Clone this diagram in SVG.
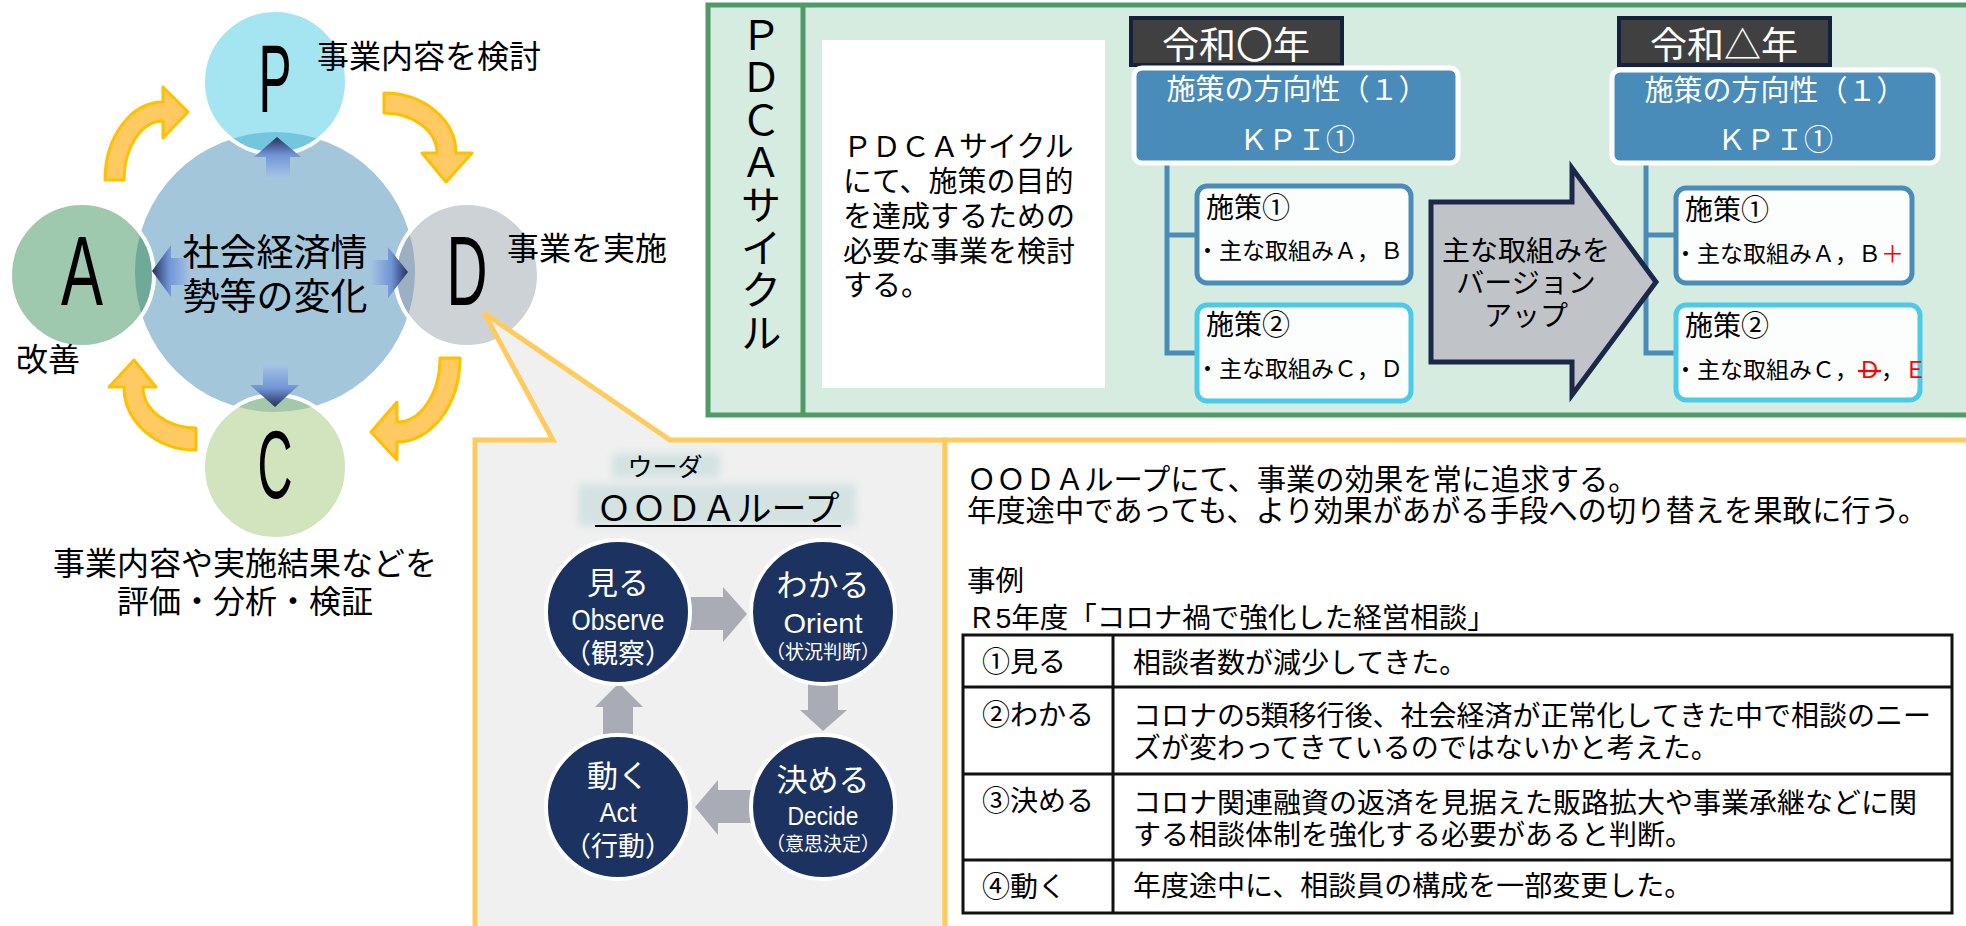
<svg xmlns="http://www.w3.org/2000/svg" width="1966" height="926" viewBox="0 0 1966 926">
<defs>
<style>
.t{font-family:'Liberation Sans','Noto Sans CJK JP',sans-serif;fill:#000;}
.v{font-family:'Liberation Sans','Noto Sans CJK JP',sans-serif;fill:#000;writing-mode:vertical-rl;text-orientation:upright;}
.w{fill:#fff;}
.lat{font-family:'Liberation Sans',sans-serif;}
.yarrow{fill:#ffca62;stroke:#ffc000;stroke-width:3;stroke-linejoin:round;}
.garrow{fill:#a9abb5;}
.ooda{fill:#1c3361;stroke:#fff;stroke-width:4;}
.tree{fill:none;stroke:#4a8cb8;stroke-width:5;}
.small{stroke:#fff;stroke-width:4;}
.blue{fill:#4a8cb9;stroke:#fff;stroke-width:5;}
.year{fill:#404040;stroke:#14213d;stroke-width:4;}
.box1{fill:#fcfdfd;stroke:#4a8cb8;stroke-width:5;}
.box2{fill:#fcfdfd;stroke:#4ccbe8;stroke-width:5;}
.tbl{fill:none;stroke:#111;stroke-width:3;}
.red{fill:#ff0000;}
</style>
<linearGradient id="gUp" x1="0" y1="0" x2="0" y2="1"><stop offset="0" stop-color="#24315a"/><stop offset="0.45" stop-color="#7194d6"/><stop offset="1" stop-color="#a4c3e2"/></linearGradient>
<linearGradient id="gDown" x1="0" y1="1" x2="0" y2="0"><stop offset="0" stop-color="#24315a"/><stop offset="0.45" stop-color="#7194d6"/><stop offset="1" stop-color="#a4c3e2"/></linearGradient>
<linearGradient id="gLeft" x1="0" y1="0" x2="1" y2="0"><stop offset="0" stop-color="#24315a"/><stop offset="0.45" stop-color="#7194d6"/><stop offset="1" stop-color="#a4c3e2"/></linearGradient>
<linearGradient id="gRight" x1="1" y1="0" x2="0" y2="0"><stop offset="0" stop-color="#24315a"/><stop offset="0.45" stop-color="#7194d6"/><stop offset="1" stop-color="#a4c3e2"/></linearGradient>
<clipPath id="cc"><circle cx="275" cy="272" r="140"/></clipPath>
<filter id="blur" x="-20%" y="-40%" width="140%" height="180%"><feGaussianBlur stdDeviation="4"/></filter>
</defs>

<!-- Left PDCA cycle -->
<g id="center">
<circle cx="275" cy="272" r="140" fill="#a4c6da"/>
</g>
<g id="node-P">
<circle cx="275" cy="82" r="72" fill="#a5e5f1"/>
<circle cx="275" cy="82" r="72" fill="#72c7de" clip-path="url(#cc)"/>
<circle cx="275" cy="82" r="72" fill="none" class="small"/>
<text class="lat" x="275" y="112" font-size="96" text-anchor="middle" textLength="33" lengthAdjust="spacingAndGlyphs">P</text>
<text class="t" x="317" y="68" font-size="32">事業内容を検討</text>
</g>
<g id="node-A">
<circle cx="82" cy="275" r="72" fill="#9ec9ae"/>
<circle cx="82" cy="275" r="72" fill="#6fa998" clip-path="url(#cc)"/>
<circle cx="82" cy="275" r="72" fill="none" class="small"/>
<text class="lat" x="82" y="305" font-size="98" text-anchor="middle" textLength="42" lengthAdjust="spacingAndGlyphs">A</text>
<text class="t" x="16" y="371" font-size="32">改善</text>
</g>
<g id="node-D">
<circle cx="467" cy="275" r="72" fill="#cdd2d7"/>
<circle cx="467" cy="275" r="72" fill="#9bb0c0" clip-path="url(#cc)"/>
<circle cx="467" cy="275" r="72" fill="none" class="small"/>
<text class="lat" x="467" y="305" font-size="98" text-anchor="middle" textLength="41" lengthAdjust="spacingAndGlyphs">D</text>
<text class="t" x="507" y="260" font-size="32">事業を実施</text>
</g>
<g id="node-C">
<circle cx="275" cy="467" r="72" fill="#d1e4bd"/>
<circle cx="275" cy="467" r="72" fill="#a5c8aa" clip-path="url(#cc)"/>
<circle cx="275" cy="467" r="72" fill="none" class="small"/>
<text class="lat" x="275" y="498" font-size="96" text-anchor="middle" textLength="35" lengthAdjust="spacingAndGlyphs">C</text>
<text class="t" x="245" y="575" font-size="32" text-anchor="middle">事業内容や実施結果などを</text>
<text class="t" x="245" y="613" font-size="32" text-anchor="middle">評価・分析・検証</text>
</g>
<g id="center-label">
<text class="t" x="275" y="266" font-size="37" text-anchor="middle">社会経済情</text>
<text class="t" x="275" y="310" font-size="37" text-anchor="middle">勢等の変化</text>
</g>

<g id="cycle-connectors">
<polygon points="266,177 266,157 254,157 277,137 301,157 290,157 290,177" fill="url(#gUp)"/>
<polygon points="263,365 263,385 250,385 275,407 299,385 288,385 288,365" fill="url(#gDown)"/>
<polygon points="190,258 171,258 171,245 152,271 171,297 171,285 190,285" fill="url(#gLeft)"/>
<polygon points="371,260 388,260 388,247 408,272 388,298 388,285 371,285" fill="url(#gRight)"/>
<path class="yarrow" d="M105,180 A58,78 0 0 1 163,102 L163,87 L188,112 L163,138 L163,121 A39,59 0 0 0 124,180 Z"/>
<path class="yarrow" d="M384,93 A72,60 0 0 1 456,153 L472,153 L446,182 L422,153 L437,153 A53,40 0 0 0 384,113 Z"/>
<path class="yarrow" d="M460,358 A63,84 0 0 1 397,442 L397,460 L371,432 L397,402 L397,422 A43,64 0 0 0 440,358 Z"/>
<path class="yarrow" d="M196,450 A72,63 0 0 1 124,387 L109,387 L134,360 L156,387 L143,387 A53,41 0 0 0 196,428 Z"/>
</g>

<!-- Callout -->
<g id="callout">
<path d="M475,940 L475,440 L553,440 L484,313 L670,440 L945,440 L945,940 Z" fill="#f0f0f0" stroke="#ffcb5c" stroke-width="5"/>
<path d="M945,940 L945,440 L1980,440" fill="#fff" stroke="#ffcb5c" stroke-width="5"/>
</g>

<!-- OODA -->
<g id="ooda-title">
<rect x="612" y="453" width="108" height="25" fill="#d4e2e2" filter="url(#blur)"/>
<rect x="578" y="484" width="278" height="42" fill="#d4e2e2" filter="url(#blur)"/>
<text class="t" x="665" y="476" font-size="25" text-anchor="middle">ウーダ</text>
<text class="t" x="718" y="521" font-size="35" text-anchor="middle">ＯＯＤＡループ</text>
<line x1="595" y1="526" x2="841" y2="526" stroke="#000" stroke-width="2"/>
</g>
<g id="ooda-connectors">
<polygon class="garrow" points="690,597 723,597 723,587 747,614 723,642 723,630 690,630"/>
<polygon class="garrow" points="808,683 838,683 838,710 847,710 823,731 800,710 808,710"/>
<polygon class="garrow" points="753,790 718,790 718,780 695,807 718,835 718,823 753,823"/>
<polygon class="garrow" points="603,742 603,707 595,707 619,683 643,707 633,707 633,742"/>
</g>
<g id="ooda-observe">
<circle class="ooda" cx="618" cy="612" r="72"/>
<text class="t w" x="618" y="594" font-size="31" text-anchor="middle">見る</text>
<text class="lat w" x="618" y="630" font-size="30" text-anchor="middle" textLength="93" lengthAdjust="spacingAndGlyphs">Observe</text>
<text class="t w" x="618" y="663" font-size="27" text-anchor="middle">（観察）</text>
</g>
<g id="ooda-orient">
<circle class="ooda" cx="823" cy="612" r="72"/>
<text class="t w" x="823" y="596" font-size="31" text-anchor="middle">わかる</text>
<text class="lat w" x="823" y="633" font-size="28" text-anchor="middle" textLength="79" lengthAdjust="spacingAndGlyphs">Orient</text>
<text class="t w" x="823" y="659" font-size="19" text-anchor="middle">（状況判断）</text>
</g>
<g id="ooda-decide">
<circle class="ooda" cx="823" cy="807" r="72"/>
<text class="t w" x="823" y="791" font-size="31" text-anchor="middle">決める</text>
<text class="lat w" x="823" y="825" font-size="25" text-anchor="middle" textLength="71" lengthAdjust="spacingAndGlyphs">Decide</text>
<text class="t w" x="823" y="851" font-size="19" text-anchor="middle">（意思決定）</text>
</g>
<g id="ooda-act">
<circle class="ooda" cx="618" cy="807" r="72"/>
<text class="t w" x="618" y="787" font-size="31" text-anchor="middle">動く</text>
<text class="lat w" x="618" y="822" font-size="28" text-anchor="middle" textLength="37" lengthAdjust="spacingAndGlyphs">Act</text>
<text class="t w" x="618" y="856" font-size="27" text-anchor="middle">（行動）</text>
</g>

<!-- Right explanation -->
<g id="ooda-text">
<text class="t" x="967" y="490" font-size="29.3">ＯＯＤＡループにて、事業の効果を常に追求する。</text>
<text class="t" x="967" y="521" font-size="29.3">年度途中であっても、より効果があがる手段への切り替えを果敢に行う。</text>
<text class="t" x="967" y="591" font-size="28.5">事例</text>
<text class="t" x="967" y="628" font-size="28.5">Ｒ5年度「コロナ禍で強化した経営相談」</text>
</g>
<g id="case-table">
<rect class="tbl" x="963" y="635" width="989" height="278" fill="#fff"/>
<line class="tbl" x1="963" y1="687" x2="1952" y2="687"/>
<line class="tbl" x1="963" y1="774" x2="1952" y2="774"/>
<line class="tbl" x1="963" y1="860" x2="1952" y2="860"/>
<line class="tbl" x1="1113" y1="635" x2="1113" y2="913"/>
<text class="t" x="982" y="672" font-size="28">①見る</text>
<text class="t" x="982" y="725" font-size="28">②わかる</text>
<text class="t" x="982" y="811" font-size="28">③決める</text>
<text class="t" x="982" y="897" font-size="28">④動く</text>
<text class="t" x="1133" y="673" font-size="28">相談者数が減少してきた。</text>
<text class="t" x="1133" y="726" font-size="28">コロナの5類移行後、社会経済が正常化してきた中で相談のニー</text>
<text class="t" x="1133" y="758" font-size="28">ズが変わってきているのではないかと考えた。</text>
<text class="t" x="1133" y="813" font-size="28">コロナ関連融資の返済を見据えた販路拡大や事業承継などに関</text>
<text class="t" x="1133" y="845" font-size="28">する相談体制を強化する必要があると判断。</text>
<text class="t" x="1133" y="896" font-size="28">年度途中に、相談員の構成を一部変更した。</text>
</g>

<!-- PDCA panel -->
<g id="pdca-panel">
<rect x="708" y="5" width="1280" height="410" fill="#d6ece0" stroke="#4e9b67" stroke-width="5"/>
<line x1="803" y1="5" x2="803" y2="415" stroke="#4e9b67" stroke-width="5"/>
<text class="v" x="757" y="14" font-size="41" letter-spacing="1.5">ＰＤＣＡサイクル</text>
</g>
<g id="pdca-note">
<rect x="822" y="40" width="283" height="348" fill="#fff"/>
<text class="t" x="843" y="157" font-size="29">ＰＤＣＡサイクル</text>
<text class="t" x="843" y="192" font-size="29">にて、施策の目的</text>
<text class="t" x="843" y="227" font-size="29">を達成するための</text>
<text class="t" x="843" y="262" font-size="29">必要な事業を検討</text>
<text class="t" x="843" y="296" font-size="29">する。</text>
</g>

<g id="tree-connectors">
<path class="tree" d="M1167,163 L1167,353 L1197,353 M1167,235 L1197,235"/>
<path class="tree" d="M1646,163 L1646,353 L1676,353 M1646,235 L1676,235"/>
</g>

<g id="year-left">
<rect class="year" x="1131" y="18" width="211" height="47"/>
<text class="t w" x="1236" y="59" font-size="37" text-anchor="middle">令和〇年</text>
</g>
<g id="policy-left">
<rect class="blue" x="1134" y="68" width="324" height="95" rx="8"/>
<text class="t w" x="1297" y="100" font-size="29" text-anchor="middle">施策の方向性（１）</text>
<text class="t w" x="1297" y="150" font-size="29" text-anchor="middle">ＫＰＩ①</text>
</g>
<g id="measure1-left">
<rect class="box1" x="1197" y="186" width="214" height="97" rx="10"/>
<text class="t" x="1206" y="218" font-size="28">施策①</text>
<text class="t" x="1196" y="259" font-size="23">・主な取組みＡ，Ｂ</text>
</g>
<g id="measure2-left">
<rect class="box2" x="1197" y="305" width="214" height="96" rx="10"/>
<text class="t" x="1206" y="335" font-size="28">施策②</text>
<text class="t" x="1196" y="377" font-size="23">・主な取組みＣ，Ｄ</text>
</g>

<g id="version-up-arrow">
<polygon points="1431,202 1572,202 1572,168 1656,282 1572,395 1572,362 1431,362" fill="#c0c4c9" stroke="#1b2849" stroke-width="5" stroke-linejoin="miter"/>
<text class="t" x="1526" y="261" font-size="28" text-anchor="middle">主な取組みを</text>
<text class="t" x="1526" y="293" font-size="28" text-anchor="middle">バージョン</text>
<text class="t" x="1526" y="326" font-size="28" text-anchor="middle">アップ</text>
</g>

<g id="year-right">
<rect class="year" x="1619" y="18" width="211" height="47"/>
<text class="t w" x="1724" y="59" font-size="37" text-anchor="middle">令和△年</text>
</g>
<g id="policy-right">
<rect class="blue" x="1612" y="70" width="326" height="93" rx="8"/>
<text class="t w" x="1775" y="101" font-size="29" text-anchor="middle">施策の方向性（１）</text>
<text class="t w" x="1775" y="150" font-size="29" text-anchor="middle">ＫＰＩ①</text>
</g>
<g id="measure1-right">
<rect class="box1" x="1676" y="188" width="236" height="95" rx="10"/>
<text class="t" x="1685" y="220" font-size="28">施策①</text>
<text class="t" x="1674" y="262" font-size="23">・主な取組みＡ，Ｂ<tspan class="red">＋</tspan></text>
</g>
<g id="measure2-right">
<rect class="box2" x="1676" y="305" width="244" height="95" rx="10"/>
<text class="t" x="1685" y="336" font-size="28">施策②</text>
<text class="t" x="1674" y="378" font-size="23">・主な取組みＣ，<tspan class="red" text-decoration="line-through">Ｄ</tspan>，<tspan class="red">Ｅ</tspan></text>
</g>
</svg>
